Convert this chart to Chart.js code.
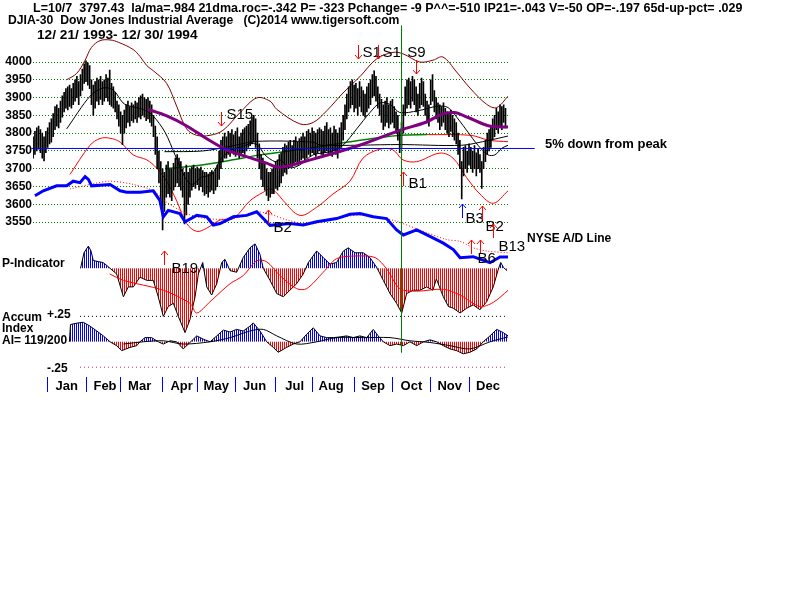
<!DOCTYPE html>
<html>
<head>
<meta charset="utf-8">
<title>DJIA-30 1994</title>
<script src="https://cdn.jsdelivr.net/npm/chart.js@4.4.1/dist/chart.umd.min.js"></script>
<style>
  html, body { margin: 0; padding: 0; background: #fff; }
  #wrap { position: relative; width: 800px; height: 600px; overflow: hidden; }
  #chart { position: absolute; left: 0; top: 0; }
  .lbl { position: absolute; font-family: "Liberation Sans", Arial, sans-serif; font-weight: bold;
         font-size: 13px; line-height: 13px; white-space: pre; color: #000; }
</style>
</head>
<body>
<div id="wrap">
  <canvas id="chart" width="800" height="600"></canvas>
  <div class="lbl" style="left:33px;top:2px;font-size:12.5px">L=10/7  3797.43  la/ma=.984 21dma.roc=-.342 P= -323 Pchange= -9 P^^=-510 IP21=-.043 V=-50 OP=-.197 65d-up-pct= .029</div>
  <div class="lbl" style="left:8px;top:14px;font-size:12.2px">DJIA-30  Dow Jones Industrial Average   (C)2014 www.tigersoft.com</div>
  <div class="lbl" style="left:37px;top:28px;font-size:13.7px">12/ 21/ 1993- 12/ 30/ 1994</div>
  <div class="lbl" style="left:545px;top:137px">5% down from peak</div>
  <div class="lbl" style="left:527px;top:232px;font-size:12px">NYSE A/D Line</div>
  <div class="lbl" style="left:2px;top:257px;font-size:12px">P-Indicator</div>
  <div class="lbl" style="left:2px;top:311px;font-size:12px">Accum</div>
  <div class="lbl" style="left:2px;top:322px;font-size:12px">Index</div>
  <div class="lbl" style="left:2px;top:334px;font-size:12px">AI= 119/200</div>
  <div class="lbl" style="left:47px;top:308px;font-size:12px">+.25</div>
  <div class="lbl" style="left:47px;top:362px;font-size:12px">-.25</div>
</div>
<script>
// ---- data (x = trading day, 0 = 12/21/1993) ----
const monthNames = ['Jan', 'Feb', 'Mar', 'Apr', 'May', 'Jun', 'Jul', 'Aug', 'Sep', 'Oct', 'Nov', 'Dec'];
const monthStart = [8, 29, 48, 71, 90, 111, 133, 153, 176, 197, 218, 239];
const priceTicks = [3550, 3600, 3650, 3700, 3750, 3800, 3850, 3900, 3950, 4000];

const barLow = [
  3730,3740,3750,3755,3745,3730,3722,3745,3760,3770, 3775,3790,3810,3820,3815,3830,3845,3860,3870,3865,
  3875,3870,3880,3890,3900,3880,3905,3920,3940,3945, 3935,3925,3880,3850,3870,3890,3880,3895,3880,3890,
  3900,3890,3880,3875,3870,3860,3840,3820,3800,3768, 3800,3815,3830,3820,3835,3830,3840,3830,3845,3840,
  3850,3845,3835,3840,3830,3820,3790,3740,3700,3660, 3600,3528,3580,3620,3630,3620,3610,3640,3650,3660,
  3650,3640,3620,3545,3570,3600,3620,3640,3650,3645, 3655,3640,3650,3635,3625,3630,3620,3635,3640,3630,
  3640,3650,3670,3700,3720,3730,3730,3740,3735,3745, 3740,3735,3745,3730,3740,3745,3740,3750,3760,3765,
  3770,3775,3760,3730,3700,3670,3650,3640,3625,3610, 3620,3630,3630,3645,3640,3650,3660,3680,3690,3685,
  3700,3710,3705,3715,3720,3710,3720,3725,3730,3720, 3730,3740,3735,3745,3740,3735,3745,3750,3740,3735,
  3745,3750,3740,3745,3735,3750,3740,3730,3745,3760, 3780,3810,3840,3860,3870,3880,3860,3870,3850,3875,
  3860,3850,3845,3860,3870,3880,3900,3905,3890,3870, 3850,3830,3810,3820,3830,3815,3825,3830,3815,3800,
  3780,3745,3760,3800,3850,3870,3880,3870,3890,3880, 3860,3850,3870,3880,3875,3850,3830,3820,3880,3890,
  3860,3840,3830,3810,3820,3830,3810,3800,3790,3805, 3790,3780,3770,3740,3700,3615,3680,3700,3690,3710,
  3700,3690,3700,3680,3700,3690,3645,3700,3720,3740, 3750,3760,3780,3790,3810,3800,3820,3810,3830,3815
];
const barHigh = [
  3790,3805,3815,3820,3810,3800,3790,3805,3815,3830, 3840,3855,3875,3880,3870,3890,3905,3915,3925,3930,
  3935,3925,3940,3950,3960,3945,3965,3980,3995,4003, 3998,3990,3950,3935,3945,3955,3950,3960,3945,3950,
  3965,3955,3977,3940,3930,3915,3890,3880,3860,3850, 3865,3880,3890,3875,3885,3880,3890,3885,3900,3905,
  3910,3900,3895,3900,3890,3880,3850,3820,3790,3750, 3720,3700,3690,3710,3720,3700,3700,3715,3730,3740,
  3730,3720,3700,3690,3710,3690,3700,3705,3710,3700, 3705,3700,3705,3695,3690,3690,3685,3690,3695,3690,
  3700,3710,3750,3780,3790,3800,3790,3805,3800,3810, 3795,3805,3815,3790,3800,3810,3815,3820,3825,3835,
  3845,3850,3840,3800,3770,3740,3730,3715,3700,3690, 3690,3700,3705,3720,3725,3740,3745,3760,3770,3765,
  3775,3780,3765,3780,3790,3775,3785,3790,3800,3790, 3805,3810,3800,3815,3805,3800,3810,3815,3810,3805,
  3820,3830,3810,3815,3800,3820,3810,3800,3815,3830, 3850,3880,3910,3930,3945,3950,3935,3940,3925,3945,
  3930,3920,3910,3930,3940,3950,3965,3975,3960,3930, 3910,3895,3880,3890,3900,3880,3890,3895,3875,3860,
  3850,3810,3830,3880,3930,3950,3955,3945,3960,3950, 3930,3910,3940,3955,3945,3910,3890,3880,3950,3965,
  3920,3900,3885,3880,3875,3885,3870,3860,3855,3865, 3850,3840,3830,3800,3780,3720,3760,3765,3750,3770,
  3760,3750,3765,3745,3755,3740,3720,3760,3780,3800, 3810,3820,3840,3850,3870,3860,3880,3875,3880,3870
];

// [day, value] pairs
const ma21 = [[18.4,3812],[31.2,3904],[38.3,3927],[43.8,3922],[49.3,3885],[53.1,3876],[60.2,3867],[65.7,3849],
  [72.3,3803],[77.8,3739],[83.3,3675],[87,3656],[92.4,3676],[97.9,3684],[103.4,3731],[108.9,3753],[114.4,3762],
  [119.8,3771],[123.3,3766],[127.1,3739],[132.6,3720],[135.4,3725],[140.9,3703],[146.3,3711],[153.5,3739],
  [162.8,3748],[169.9,3766],[177.4,3812],[184.7,3858],[190.2,3885],[195.7,3881],[201.1,3858],[211,3863],
  [221.9,3876],[227.5,3872],[233,3840],[238.4,3803],[243.9,3766],[249.4,3739],[253.2,3739],[257.1,3758],[260.4,3766]];
const upperBand = [[18.4,3950],[23.9,3968],[28.5,4005],[32,4041],[36.7,4060],[42.2,4062],[47,4055],[54.9,4035],
  [58.7,4015],[62.3,3990],[66,3975],[73.2,3940],[78.7,3876],[84.2,3812],[89.7,3794],[97,3794],[104.1,3808],
  [113.5,3858],[122.6,3899],[129.9,3890],[133.6,3867],[146.3,3826],[153.5,3830],[161,3863],[169.9,3913],
  [179.2,3959],[188.4,4009],[197.3,4027],[202.8,4023],[212,4000],[219.2,4005],[224.7,4014],[232.2,3972],
  [239.5,3927],[248.7,3881],[254.2,3872],[260.4,3904]];
const lowerBand = [[20.2,3684],[31.2,3766],[36.7,3785],[42.1,3786],[47.7,3775],[54.9,3739],[62.3,3725],
  [67.7,3702],[73.2,3665],[78.7,3610],[84.2,3546],[89.7,3524],[95.2,3533],[102.5,3556],[109.8,3560],
  [118.9,3610],[126.2,3634],[129.9,3643],[133.6,3632],[137.2,3610],[146.3,3569],[155.5,3592],[164.4,3629],
  [173.7,3665],[180.9,3730],[190.2,3755],[197.3,3753],[202.8,3725],[210.3,3720],[223.1,3744],[230.2,3730],
  [237.7,3675],[245,3629],[252.3,3603],[260.4,3638]];
const ma65 = [[63,3867],[73,3849],[84,3821],[95,3785],[106,3753],[117,3734],[128,3716],[135,3704],[152,3725],
  [179,3766],[201,3808],[215,3830],[224,3853],[231,3858],[238.6,3844],[249.6,3821],[260.4,3817]];
const maGreen = [[72.4,3700],[91.5,3710],[109.6,3725],[124.4,3739],[151.8,3758],[173.7,3776],[201.1,3794],[216,3796]];
const maRed = [[216,3796],[240,3794],[250,3780],[260.4,3776]];
const maLong = [[72,3748],[93,3750],[110,3765],[122,3777],[153,3775],[158,3766],[201,3768],[235,3766],
  [250,3780],[260.4,3792]];
const fivePctLevel = 3757;

const adLine = [[1,3624],[5.6,3638],[12.9,3652],[18.4,3652],[22,3665],[25.7,3661],[28.5,3678],[30.3,3670],
  [32.1,3652],[42.2,3656],[47.7,3638],[51.3,3634],[58.6,3634],[65.9,3638],[69.5,3611],[71.4,3565],[74.1,3583],
  [80.5,3574],[83.3,3551],[89.7,3569],[95.2,3565],[98.8,3542],[102.5,3546],[109.8,3565],[117.1,3569],
  [122.6,3579],[126.2,3560],[129.9,3541],[140.8,3546],[148.1,3542],[155.5,3551],[166.4,3560],[173.7,3572],
  [179.2,3574],[186.5,3565],[193.8,3560],[199.3,3528],[203,3514],[210.3,3528],[217.6,3510],[224.9,3491],
  [230.4,3473],[234.1,3450],[241.3,3453],[245,3446],[250.5,3436],[256,3452],[260.4,3452]];
const adAverage = [[20.2,3643],[33,3658],[42.2,3665],[54.9,3656],[65.9,3638],[73.2,3606],[84.2,3574],
  [95.2,3560],[109.8,3560],[122,3579],[130,3572],[140,3555],[152,3545],[170,3565],[182.9,3569],[197.5,3555],
  [212,3528],[226.7,3501],[234.1,3496],[241.2,3478],[248.7,3469],[260.4,3464]];

const pIndicator = [[26,0],[27.9,117],[30.3,167],[31.7,132],[33,59],[35.7,51],[38.3,44],[40.4,22],[42.2,0],
  [45.8,-42],[49.5,-213],[52.2,-139],[54.9,-139],[58.6,-66],[62.3,-90],[65.9,-90],[68.6,-213],[71.4,-360],
  [74.1,-286],[76.9,-262],[79.6,-360],[83.3,-482],[86,-384],[88.8,-213],[90.6,-42],[93,44],[95.2,-139],
  [97.9,-200],[100.7,-115],[103.4,44],[105.2,68],[108,-17],[111.6,-29],[115.2,81],[118.9,154],[121.7,184],
  [124.4,105],[126.2,0],[129.9,-90],[133.6,-189],[137.2,-213],[140.8,-164],[144.5,-115],[148.1,-42],
  [150.9,44],[155.5,130],[159.1,81],[162.8,32],[166.4,44],[170.1,130],[172.8,154],[176.5,117],[181,117],
  [184.7,81],[188.4,7],[192,-90],[195.7,-189],[199.3,-262],[202.1,-335],[204.8,-189],[208.4,-164],
  [212.1,-164],[215.8,-139],[219.2,-164],[221.1,-79],[224.9,-213],[227.7,-286],[230.4,-299],[234.1,-335],
  [237.7,-299],[241.3,-274],[245,-310],[248.7,-250],[252.3,-139],[255.1,-5],[256.4,44],[257.9,7],[259.8,-17]];
const pAverage = [[42,-42],[49.5,-90],[71.4,-164],[86,-262],[89.7,-335],[97,-250],[108,-115],[115.2,-54],
  [122.6,57],[128,50],[135.4,-54],[144.5,-152],[150,-152],[159.1,-29],[166.4,73],[177.4,93],[187.5,81],
  [193.9,-5],[201.1,-152],[210.3,-171],[224.9,-157],[234.1,-200],[245,-286],[252.3,-255],[260.5,-164]];

const accumIndex = [[19.9,0],[20.5,0.17],[23.9,0.183],[27.5,0.192],[31.2,0.154],[34.9,0.106],[38.5,0.058],
  [42.2,0],[45.8,-0.038],[48.6,-0.087],[53.1,-0.055],[56.8,-0.038],[58.6,0],[61.3,0.041],[65,0.041],[68.6,0],
  [71.4,-0.022],[75.1,0.01],[78.7,0],[82.3,-0.07],[86,-0.007],[89.7,0.058],[93.3,0.026],[97,0],[100.7,0.058],
  [104.3,0.115],[108,0.096],[111.6,0.122],[115.2,0.106],[118.9,0.154],[120.7,0.186],[124.4,0.106],[128.1,0],
  [131.7,-0.055],[134.4,-0.103],[139,-0.055],[142.7,-0.022],[146.3,0],[150,0.074],[153.6,0.138],[157.3,0.058],
  [161,0.041],[164.6,0.041],[168.3,0.048],[171.9,0.058],[175.5,0.041],[179.2,0.058],[182.9,0.041],
  [186.5,0.122],[189.2,0.058],[192,0],[195.7,-0.038],[199.3,-0.022],[203,-0.038],[206.6,0],[210.3,-0.038],
  [214,0],[217.6,0.019],[221.3,0],[224.9,-0.038],[228.6,-0.07],[232.2,-0.087],[235.8,-0.118],[239.5,-0.103],
  [243.2,-0.07],[246.8,0],[250.5,0.058],[254.2,0.122],[257.9,0.089],[260.4,0.058]];
const accumAverage = [[49.5,-0.022],[60.4,0],[71.4,0.01],[82.3,-0.022],[97,0],[108,0.041],[118.9,0.106],
  [126.2,0.122],[133.6,0.058],[144.5,-0.022],[155.5,0],[166.4,0.041],[181,0.041],[195.7,0.041],[206.6,0.01],
  [217.6,-0.007],[228.6,-0.038],[239.5,-0.07],[250.5,0],[260.4,0.048]];
const accumLevels = [0.25, -0.25];

const lastSignalDay = 202;   // L=10/7
const signalName  = ['S1', 'S1', 'S9', 'S15', 'B1', 'B3', 'B2', 'B2', 'B19', 'B6', 'B6', 'B13'];
const signalDay   = [178, 189, 210, 103, 203, 235, 246, 129, 72, 240, 245, 252];
const signalLevel = [4008, 4008, 3967, 3821, 3692, 3601, 3596, 3585, 3469, 3500, 3500, 3546];

// ---- drawing ----
const FONT = '"Liberation Sans", Arial, sans-serif';
const canvas = document.getElementById('chart');
const ctx = canvas.getContext('2d');

function stripes(color) {
  const tile = document.createElement('canvas');
  tile.width = 2;
  tile.height = 1;
  const t = tile.getContext('2d');
  t.fillStyle = color;
  t.fillRect(0, 0, 1, 1);
  return ctx.createPattern(tile, 'repeat');
}
const blueStripes = stripes('#0000ff');
const redStripes = stripes('#ff0000');

const xy = pairs => pairs.map(([d, v]) => ({ x: d, y: v }));
function line(pairs, color, width, extra) {
  return Object.assign({
    type: 'line', data: xy(pairs), borderColor: color, borderWidth: width,
    pointRadius: 0, fill: false, tension: 0, yAxisID: 'y'
  }, extra);
}

// label placement for each signal, relative to the arrow tip
const signalColor = ['#ff0000', '#ff0000', '#ff0000', '#ff0000', '#ff0000', '#0000ff',
                     '#ff0000', '#ff0000', '#ff0000', '#ff0000', '#ff0000', '#ff0000'];
const labelDx = [4, 4, 0, 5, 5, 3, 3, 5, 7, null, -3, 5];
const labelDy = [-6, -6, -21, -11, 12, 15, 21, 18, 18, null, 19, 23];

const signalPlugin = {
  id: 'signals',
  afterDatasetsDraw(chart) {
    const { ctx, scales: { x, y } } = chart;
    ctx.save();
    ctx.lineWidth = 1;
    ctx.font = '15px ' + FONT;
    ctx.textBaseline = 'middle';
    signalDay.forEach((day, k) => {
      const px = Math.round(x.getPixelForValue(day)) + 0.5;
      const py = Math.round(y.getPixelForValue(signalLevel[k]));
      const dir = signalName[k][0] === 'B' ? 1 : -1; // buy: tail below, sell: tail above
      ctx.strokeStyle = signalColor[k];
      ctx.beginPath();
      ctx.moveTo(px, py + dir * 14);
      ctx.lineTo(px, py);
      ctx.moveTo(px - 3.5, py + dir * 4);
      ctx.lineTo(px, py);
      ctx.lineTo(px + 3.5, py + dir * 4);
      ctx.stroke();
      if (labelDx[k] === null) return;
      ctx.fillStyle = '#000';
      ctx.textAlign = signalName[k] === 'S9' ? 'center' : 'left';
      ctx.fillText(signalName[k], px + labelDx[k], py + labelDy[k]);
    });
    ctx.restore();
  }
};

new Chart(canvas, {
  type: 'line',
  data: {
    datasets: [
      line([[-1, fivePctLevel], [275, fivePctLevel]], '#0000ff', 1, { order: 1, clip: false }),
      line([[lastSignalDay, 4102], [lastSignalDay, 3184]], '#008000', 1, { order: 1 }),
      line(ma65, '#800080', 3, { order: 2, tension: 0.3 }),
      line(adLine, '#0000ff', 3, { order: 3 }),
      line(adAverage, '#ff0000', 1, { order: 4, borderDash: [1, 2], tension: 0.3 }),
      {
        type: 'bar', yAxisID: 'y', order: 5,
        data: barHigh.map((h, i) => ({ x: i, y: [barLow[i], h] })),
        backgroundColor: '#000', borderWidth: 0, barThickness: 1, grouped: false
      },
      line(pIndicator, '#000', 1, { yAxisID: 'p', order: 6,
        fill: { target: 'origin', above: blueStripes, below: redStripes } }),
      line(pAverage, '#ff0000', 1, { yAxisID: 'p', order: 5, tension: 0.3 }),
      line(accumIndex, '#000', 1, { yAxisID: 'acc', order: 6,
        fill: { target: 'origin', above: blueStripes, below: redStripes } }),
      line(accumAverage, '#000', 1, { yAxisID: 'acc', order: 5, tension: 0.3 }),
      line([[25.7, accumLevels[0]], [260.4, accumLevels[0]]], '#000', 1, { yAxisID: 'acc', order: 7, borderDash: [1, 3] }),
      line([[25.7, accumLevels[1]], [260.4, accumLevels[1]]], '#b03070', 1, { yAxisID: 'acc', order: 7, borderDash: [1, 3] }),
      line(ma21, '#000', 1, { order: 8, tension: 0.3 }),
      line(maLong, '#000', 1, { order: 8, tension: 0.3 }),
      line(maGreen, '#008000', 1.5, { order: 8, tension: 0.3 }),
      line(maRed, '#ff0000', 1, { order: 8, tension: 0.3 }),
      line(upperBand, '#800000', 1, { order: 9, tension: 0.35 }),
      line(lowerBand, '#ff0000', 1, { order: 9, tension: 0.35 })
    ]
  },
  options: {
    responsive: false,
    devicePixelRatio: 1,
    animation: false,
    events: [],
    layout: { autoPadding: false, padding: { left: 0, top: 0, right: 292, bottom: 0 } },
    plugins: { legend: { display: false }, tooltip: { enabled: false } },
    scales: {
      x: {
        type: 'linear', min: -0.06, max: 260.38, offset: false,
        afterBuildTicks: axis => { axis.ticks = monthStart.map(v => ({ value: v })); },
        afterFit: axis => { axis.height = 223; },
        grid: { offset: false, drawOnChartArea: false, drawTicks: true, tickLength: 15,
                color: '#0000ff', tickColor: '#0000ff' },
        border: { display: false },
        ticks: {
          callback: (v, i) => monthNames[i], autoSkip: false, maxRotation: 0,
          labelOffset: 19, padding: -13, color: '#000',
          font: { family: FONT, size: 13, weight: 'bold' }
        }
      },
      y: {
        position: 'left', min: 3114.8, max: 4151.2,
        afterBuildTicks: axis => { axis.ticks = priceTicks.map(v => ({ value: v })); },
        afterFit: axis => { axis.width = 33; },
        grid: { color: '#008000', drawTicks: false },
        border: { display: false, dash: [1, 2] },
        ticks: { padding: 1, color: '#000', callback: v => String(v),
                 font: { family: FONT, size: 12, weight: 'bold' } }
      },
      p: { display: false, min: -815, max: 1952 },
      acc: { display: false, min: -0.346, max: 3.279 }
    }
  },
  plugins: [signalPlugin]
});
</script>
</body>
</html>
